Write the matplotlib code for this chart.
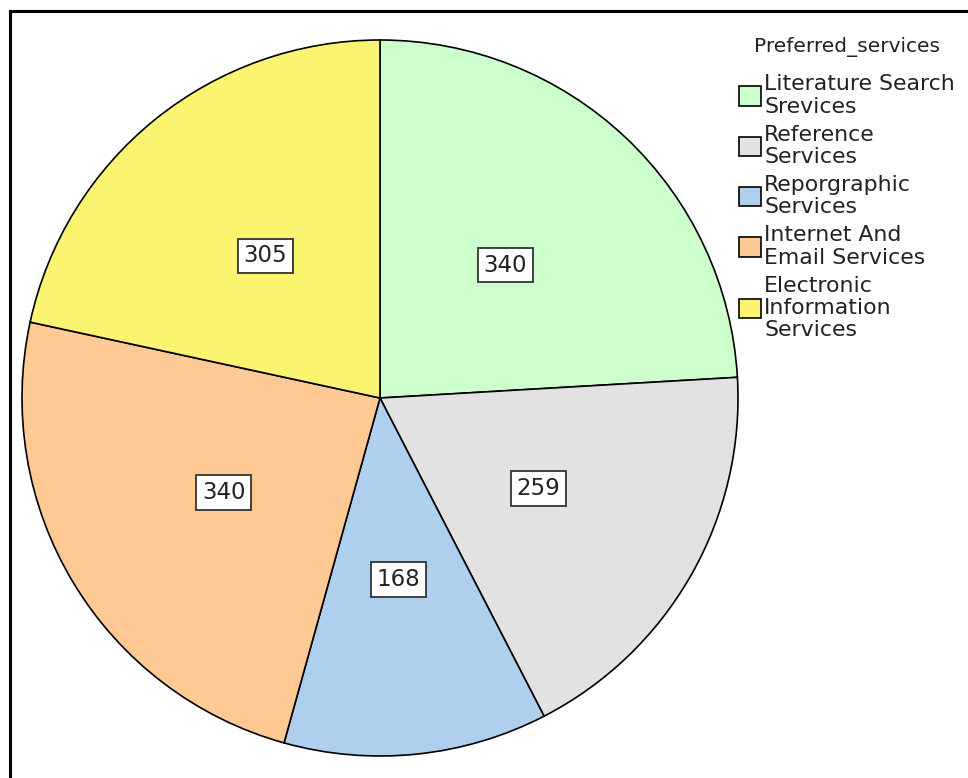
#!/usr/bin/env python3
"""Pie chart of preferred library services."""
import matplotlib
matplotlib.use("Agg")
import matplotlib.pyplot as plt
from matplotlib.lines import Line2D

services = [
    "Literature Search\nSrevices",
    "Reference\nServices",
    "Reporgraphic\nServices",
    "Internet And\nEmail Services",
    "Electronic\nInformation\nServices",
]
counts = [340, 259, 168, 340, 305]
colors = ["#CCFFCC", "#E2E2E2", "#AED0EE", "#FFC993", "#FBF470"]

W, H = 968, 778
fig = plt.figure(figsize=(W / 100, H / 100), dpi=100)

# pie centred at (380, 398) px with radius 358 px
cx, cy, r = 380, 398, 358
ax = fig.add_axes([(cx - r) / W, (H - cy - r) / H, 2 * r / W, 2 * r / H])
total = sum(counts)

wedges, texts, autotexts = ax.pie(
    counts,
    colors=colors,
    startangle=90,
    counterclock=False,
    radius=1.0,
    pctdistance=0.51,
    autopct=lambda p: f"{round(p * total / 100):d}",
    wedgeprops=dict(edgecolor="black", linewidth=1.2),
    textprops=dict(fontsize=16.5, color="#222222"),
)
for t in autotexts:
    t.set_bbox(dict(boxstyle="square,pad=0.25", facecolor="white", edgecolor="#333333", linewidth=1.3))
ax.set_xlim(-1, 1)
ax.set_ylim(-1, 1)
ax.set_aspect("equal")
ax.axis("off")

leg = fig.legend(
    wedges, services,
    title="Preferred_services",
    loc="upper left",
    bbox_to_anchor=(739 / W, 1 - 37 / H),
    frameon=False,
    fontsize=15.8,
    title_fontsize=14.5,
    handlelength=1.0,
    handleheight=1.0,
    handletextpad=0.15,
    labelspacing=0.36,
    borderaxespad=0,
    borderpad=0,
)
leg._legend_box.sep = 12.5  # wider gap below the title
for txt in leg.get_texts():
    txt.set_linespacing(1.15)
    txt.set_color("#222222")
leg.get_title().set_color("#222222")

# frame edges on the left and top
fig.add_artist(Line2D([9.5 / W, 9.5 / W], [0, 1 - 11 / H], transform=fig.transFigure,
                      color="black", linewidth=2.2))
fig.add_artist(Line2D([9.5 / W, 1], [1 - 11 / H, 1 - 11 / H], transform=fig.transFigure,
                      color="black", linewidth=2.2))

fig.savefig("out.png", dpi=100)
